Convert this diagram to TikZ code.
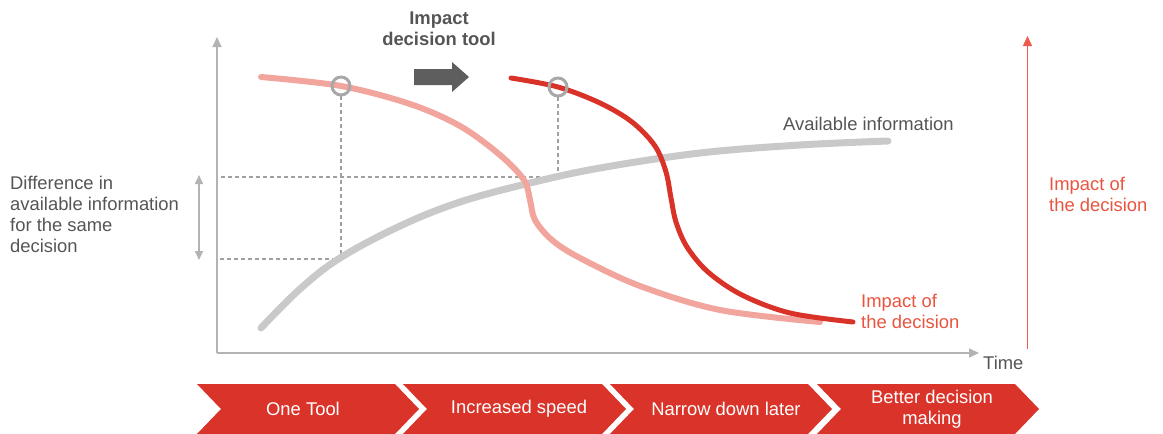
\documentclass[tikz,border=0pt]{standalone}
\usepackage{fontspec}
\setmainfont{Liberation Sans}
\usetikzlibrary{arrows.meta}
\definecolor{chevred}{HTML}{D9332A}
\definecolor{darkcurve}{HTML}{D93329}
\definecolor{lightcurve}{HTML}{F1A59D}
\definecolor{redtext}{HTML}{E9543F}
\definecolor{redarrow}{HTML}{EE5A4C}
\definecolor{graytext}{HTML}{555555}
\definecolor{graycurve}{HTML}{C9C9C9}
\definecolor{axisgray}{HTML}{B3B3B3}
\definecolor{circgray}{HTML}{A8A8A8}
\definecolor{dashgray}{HTML}{A0A0A0}
\definecolor{blockgray}{HTML}{5E5E5E}
\begin{document}
\begin{tikzpicture}[x=1pt,y=-1pt,
  lbl/.style={font=\fontsize{18.4}{21}\selectfont, inner sep=0pt, align=left},
  graylbl/.style={lbl, text=graytext},
  redlbl/.style={lbl, text=redtext},
  chevtext/.style={lbl, align=center, text=white},
  axisline/.style={draw=axisgray, line width=1.6pt, -{Triangle[length=10pt,width=9pt]}},
  dashline/.style={draw=dashgray, line width=1.1pt, dash pattern=on 4pt off 3pt},
  marker/.style={draw=circgray, line width=3pt, circle, minimum size=18pt, inner sep=0pt},
  chev/.style={fill=chevred}
]
\useasboundingbox (0,0) rectangle (1163,434);

% axes
\coordinate (o) at (217,353);
\coordinate (ytop) at (217,37);
\coordinate (xend) at (979,353);
\draw[axisline] (o) -- (ytop);
\draw[axisline] (o) -- (xend);
\node[graylbl, anchor=base west] (time) at (983,369) {Time};

% right red arrow
\coordinate (rbot) at (1027.5,349);
\coordinate (rtop) at (1027.5,36);
\draw[draw=redarrow, line width=1.3pt, -{Triangle[length=10pt,width=9pt]}] (rbot) -- (rtop);
\node[redlbl, anchor=base west] (impR) at (1049,211) {Impact of\\the decision};

% dashed guides
\coordinate (c1) at (341,86);
\coordinate (c2) at (558,87);
\coordinate (h1) at (219,259);
\coordinate (h2) at (219,177);
\draw[dashline] (341,96) -- (341,259) -- (h1);
\draw[dashline] (558,97) -- (558,177) -- (h2);

% difference arrow
\coordinate (da) at (199,175);
\coordinate (db) at (199,260);
\draw[draw=axisgray, line width=1.6pt, {Triangle[length=9pt,width=8pt]}-{Triangle[length=9pt,width=8pt]}] (da) -- (db);
\node[graylbl, anchor=base west] (diff) at (10,252) {Difference in\\available information\\for the same\\decision};

% available information curve
\draw[graycurve, line width=7pt, line cap=round] plot[smooth, tension=0.6] coordinates {
  (261,328) (300,289) (340,258) (400,226) (460,202) (530,183) (600,168) (700,153) (800,145) (888,141)};
\node[graylbl, anchor=base west] (avail) at (783,130) {Available information};

% light (early) decision curve
\draw[lightcurve, line width=6pt, line cap=round] plot[smooth, tension=0.55] coordinates {
  (261,77) (341,86) (410,104) (460,126) (500,155) (524,180) (530,200) (535,220) (552,240) (580,258) (640,286) (720,310) (820,322)};

% dark (late) decision curve
\draw[darkcurve, line width=5pt, line cap=round] plot[smooth, tension=0.55] coordinates {
  (511,78) (558,87) (600,103) (632,122) (655,146) (666,172) (671,198) (676,222) (687,247) (708,272) (742,295) (790,313) (853,322)};
\node[redlbl, anchor=base west] (impL) at (861,328) {Impact of\\the decision};

% markers
\node[marker] (m1) at (c1) {};
\node[marker] (m2) at (c2) {};

% impact decision tool
\node[lbl, align=center, font=\fontsize{18.4}{21}\selectfont\bfseries, text=graytext, anchor=base] (tool) at (439,45) {Impact\\decision tool};
\fill[blockgray] (414,69) -- (452,69) -- (452,62) -- (469,77) -- (452,92) -- (452,85) -- (414,85) -- cycle;

% chevrons
\fill[chev] (197,384) -- (395,384) -- (419,409) -- (395,434) -- (197,434) -- (221,409) -- cycle;
\fill[chev] (403,384) -- (602,384) -- (626,409) -- (602,434) -- (403,434) -- (427,409) -- cycle;
\fill[chev] (610,384) -- (808,384) -- (832,409) -- (808,434) -- (610,434) -- (634,409) -- cycle;
\fill[chev] (817,384) -- (1015,384) -- (1039,409) -- (1015,434) -- (817,434) -- (841,409) -- cycle;
\node[chevtext] (s1) at (303,409) {One Tool};
\node[chevtext] (s2) at (519,409) {Increased speed};
\node[chevtext] (s3) at (726,409) {Narrow down later};
\node[chevtext] (s4) at (932,409) {Better decision\\making};
\end{tikzpicture}
\end{document}
